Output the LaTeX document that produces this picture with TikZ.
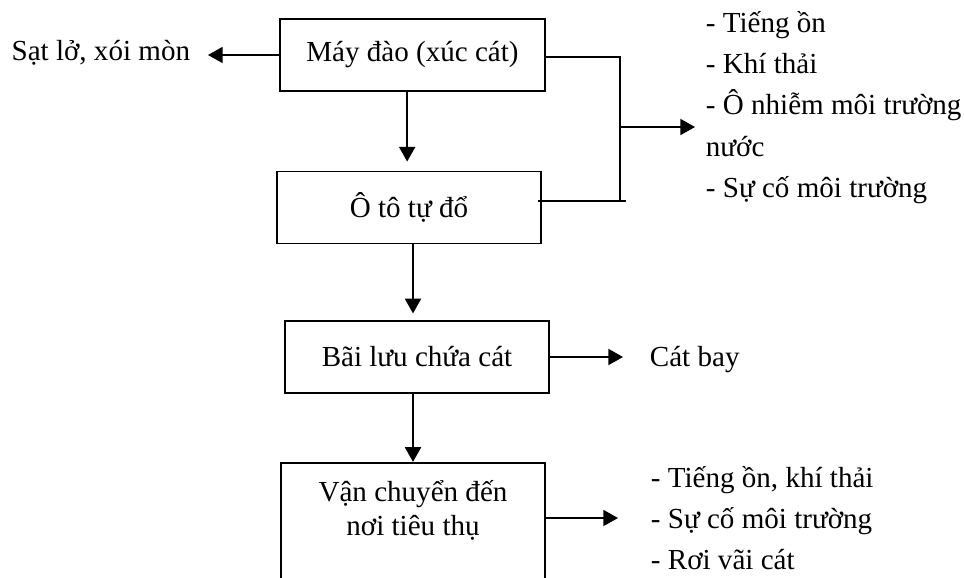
\documentclass[tikz,border=0pt]{standalone}
\usepackage{fontspec}
\setmainfont{Liberation Serif}
\usetikzlibrary{arrows.meta}
\tikzset{every picture/.style={line width=1.4pt}}
\tikzset{
  txt/.style={inner sep=0pt, font=\fontsize{21.8}{31}\selectfont},
  procbox/.style={draw, txt, minimum width=198pt, minimum height=54pt, align=center},
  plain/.style={txt, align=left},
  arrow/.style={-{Triangle[length=11pt,width=12pt]}},
}

\begin{document}
\begin{tikzpicture}[x=0.75pt,y=0.75pt,yscale=-1,xscale=1]
	\clip (0,0) rectangle (964,578);
	
	% Process boxes
	\node[procbox, minimum width=198.75pt] (digger) at (412.5,55) {Máy đào (xúc cát)};
	\node[procbox] (truck) at (409,207.5) {Ô tô tự đổ};
	\node[procbox] (yard) at (417,357) {Bãi lưu chứa cát};
	\node[procbox, minimum height=103pt] (transport) at (413,531.5) {};
	\node[plain, align=center, font=\fontsize{21.8}{25.5}\selectfont] (transporttxt) at (413,510) {Vận chuyển đến\\nơi tiêu thụ};
	
	% Impact texts
	\node[plain, anchor=east] (erosion) at (191,53) {Sạt lở, xói mòn};
	\node[plain, anchor=west] (impacts) at (705,107.5) {- Tiếng ồn\\- Khí thải\\- Ô nhiễm môi trường\\nước\\- Sự cố môi trường};
	\node[plain, anchor=west] (dust) at (649,360) {Cát bay};
	\node[plain, anchor=west] (road) at (650,518) {- Tiếng ồn, khí thải\\- Sự cố môi trường\\- Rơi vãi cát};
	
	% Main flow
	\draw[arrow, shorten >=6.75pt] ([xshift=-4pt]digger.south) -- ([xshift=-4pt]digger.south |- truck.north);
	\draw[arrow, shorten >=5pt] ([xshift=3pt]truck.south) -- ([xshift=3pt]truck.south |- yard.north);
	\draw[arrow] (yard.south -| transport.north) -- (transport.north);
	
	% Side arrows
	\draw[arrow, shorten >=12.75pt] (digger.west) -- (digger.west -| erosion.east);
	\draw[arrow, shorten >=19.5pt] (yard.east) -- (yard.east -| dust.west);
	\draw[arrow, shorten >=24pt] (transport.east |- road.west) -- (road.west);
	
	% Bracket joining digger and truck
	\coordinate (jtop) at (620,57);
	\coordinate (jbot) at (620,201);
	\coordinate (jmid) at (620,127);
	\draw (digger.east |- jtop) -- (jtop) -- (jbot);
	\draw ([xshift=-3pt]truck.east |- jbot) -- ([xshift=4.5pt]jbot);
	\draw[arrow, shorten >=7.5pt] (jmid) -- (jmid -| impacts.west);
\end{tikzpicture}
\end{document}
